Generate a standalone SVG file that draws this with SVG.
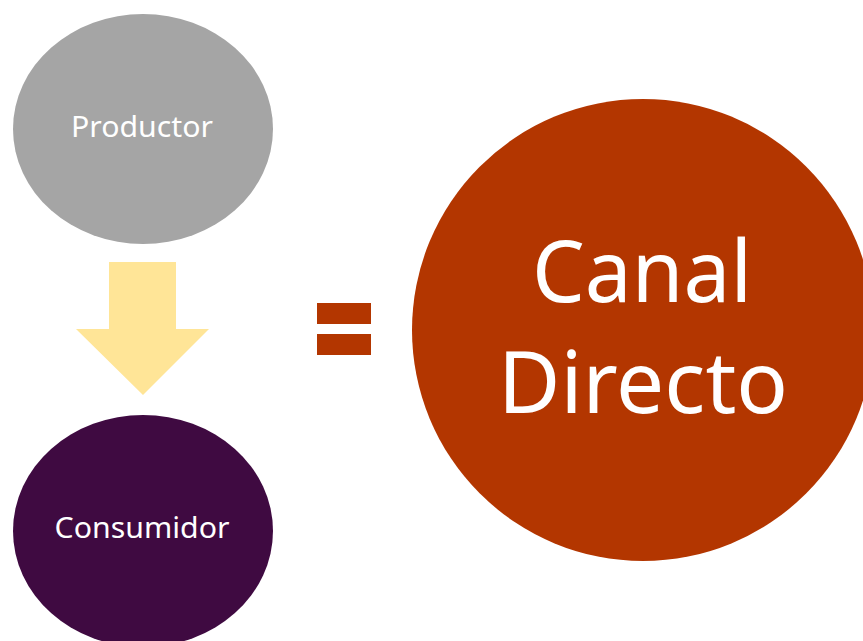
<svg xmlns="http://www.w3.org/2000/svg" width="863" height="641" viewBox="0 0 863 641">
<style>
.lbl{font-family:"Noto Sans","Open Sans","Liberation Sans",sans-serif;fill:#ffffff;text-anchor:middle}
.small{font-size:29px}
.big{font-size:86px}
</style>
<rect x="0" y="0" width="863" height="641" fill="#ffffff"/>
<g id="productor">
<ellipse cx="143" cy="129" rx="130" ry="115" fill="#a5a5a5"/>
<text class="lbl small" x="142" y="137" textLength="142" lengthAdjust="spacingAndGlyphs">Productor</text>
</g>
<g id="consumidor">
<ellipse cx="143" cy="531" rx="130" ry="116" fill="#3f0a41"/>
<text class="lbl small" x="142" y="538" textLength="175" lengthAdjust="spacingAndGlyphs">Consumidor</text>
</g>
<g id="connectors">
<polygon points="109,262 176,262 176,329 209,329 143,395 76,329 109,329" fill="#ffe597"/>
</g>
<g id="equals">
<rect x="317" y="303" width="54" height="21" fill="#b33600"/>
<rect x="317" y="334" width="54" height="21" fill="#b33600"/>
</g>
<g id="canal-directo">
<circle cx="643" cy="330" r="231" fill="#b33600"/>
<text class="lbl big" x="642" y="302" textLength="220" lengthAdjust="spacingAndGlyphs">Canal</text>
<text class="lbl big" x="643" y="413" textLength="290" lengthAdjust="spacingAndGlyphs">Directo</text>
</g>
</svg>
